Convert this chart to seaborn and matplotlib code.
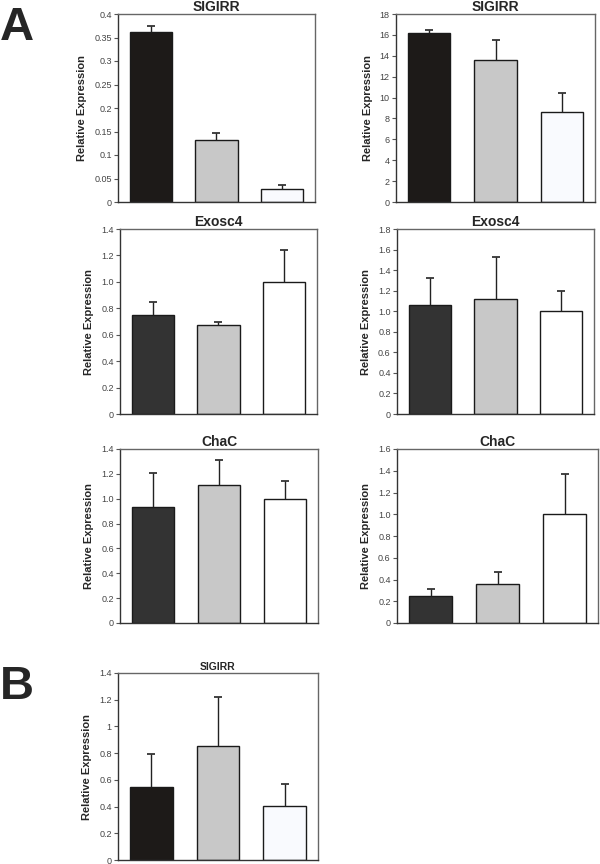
import numpy as np
import pandas as pd
import matplotlib
matplotlib.use("Agg")
import matplotlib.pyplot as plt
import seaborn as sns
from matplotlib.ticker import FixedLocator, FixedFormatter

# Bar heights and (upper) error bars for each panel, groups in order
groups = ["g1", "g2", "g3"]

sigirr_a1 = [0.362, 0.132, 0.028]
sigirr_a1_err = [0.012, 0.015, 0.008]

sigirr_a2 = [16.2, 13.6, 8.6]
sigirr_a2_err = [0.3, 1.9, 1.8]

exosc4_a3 = [0.75, 0.67, 1.0]
exosc4_a3_err = [0.095, 0.03, 0.24]

exosc4_a4 = [1.06, 1.12, 1.0]
exosc4_a4_err = [0.26, 0.41, 0.20]

chac_a5 = [0.93, 1.11, 1.0]
chac_a5_err = [0.28, 0.20, 0.14]

chac_a6 = [0.25, 0.355, 1.0]
chac_a6_err = [0.06, 0.115, 0.37]

sigirr_b = [0.545, 0.855, 0.405]
sigirr_b_err = [0.245, 0.365, 0.165]

ticks_a1 = ["0", "0.05", "0.1", "0.15", "0.2", "0.25", "0.3", "0.35", "0.4"]
ticks_a2 = ["0", "2", "4", "6", "8", "10", "12", "14", "16", "18"]
ticks_a3 = ["0", "0.2", "0.4", "0.6", "0.8", "1.0", "1.2", "1.4"]
ticks_a4 = ["0", "0.2", "0.4", "0.6", "0.8", "1.0", "1.2", "1.4", "1.6", "1.8"]
ticks_a6 = ["0", "0.2", "0.4", "0.6", "0.8", "1.0", "1.2", "1.4", "1.6"]
ticks_b = ["0", "0.2", "0.4", "0.6", "0.8", "1", "1.2", "1.4"]

sns.set_theme(style="white")
plt.rcParams['font.family'] = ['Liberation Sans', 'DejaVu Sans']

W, H = 600, 864
fig = plt.figure(figsize=(6, 8.64), dpi=100)


def make_ax(x0, y0, x1, y1):
    return fig.add_axes([x0 / W, 1 - y1 / H, (x1 - x0) / W, (y1 - y0) / H])


def panel(ax, title, vals, errs, ticks, colors, title_size=10, ysize=8):
    df = pd.DataFrame({"group": groups, "value": vals})
    sns.barplot(data=df, x="group", y="value", hue="group", palette=colors,
                width=0.64, edgecolor="#1a1a1a", linewidth=1.0,
                legend=False, ax=ax, errorbar=None)
    # one-sided error bars on top of the bars
    xs = [p.get_x() + p.get_width() / 2 for p in ax.patches]
    eb = ax.errorbar(xs, vals, yerr=[np.zeros(len(vals)), errs], fmt="none",
                     ecolor="#222222", elinewidth=1.0, capsize=3, capthick=1.2, zorder=1)
    # hide the cap at the bar top (lower end)
    eb.lines[1][0].set_visible(False)
    tv = [float(t) for t in ticks]
    ax.set_ylim(0, tv[-1])
    ax.set_xlim(-0.5, 2.5)
    ax.yaxis.set_major_locator(FixedLocator(tv))
    ax.yaxis.set_major_formatter(FixedFormatter(ticks))
    ax.tick_params(axis="y", left=True, length=3, width=0.8, color="#555555",
                   labelsize=6.5, labelcolor="#444444", pad=1.5)
    ax.set_xticks([])
    ax.set_xlabel("")
    ax.set_ylabel("Relative Expression", fontsize=ysize, fontweight="bold", labelpad=5)
    ax.set_title(title, fontsize=title_size, fontweight="bold", pad=2)
    for s in ax.spines.values():
        s.set_visible(True)
        s.set_color("#666666")
        s.set_linewidth(1.0)
    ax.spines["left"].set_color("#333333")
    ax.spines["bottom"].set_color("#333333")


col_a = ["#1e1a17", "#c8c8c8", "#f8faff"]
col_b = ["#333333", "#c8c8c8", "#ffffff"]

ax1 = make_ax(118, 14, 315, 202)
panel(ax1, "SIGIRR", sigirr_a1, sigirr_a1_err, ticks_a1, col_a)
ax2 = make_ax(396, 14, 595, 202)
panel(ax2, "SIGIRR", sigirr_a2, sigirr_a2_err, ticks_a2, col_a)
ax3 = make_ax(120, 229, 317, 414)
panel(ax3, "Exosc4", exosc4_a3, exosc4_a3_err, ticks_a3, col_b)
ax4 = make_ax(397, 229, 594, 414)
panel(ax4, "Exosc4", exosc4_a4, exosc4_a4_err, ticks_a4, col_b)
ax5 = make_ax(120, 449, 318, 623)
panel(ax5, "ChaC", chac_a5, chac_a5_err, ticks_a3, col_b)
ax6 = make_ax(397, 449, 598, 623)
panel(ax6, "ChaC", chac_a6, chac_a6_err, ticks_a6, col_b)
ax7 = make_ax(118, 673, 318, 860)
panel(ax7, "SIGIRR", sigirr_b, sigirr_b_err, ticks_b, col_a, title_size=7.5)

fig.text(0 / W, 1 - 6 / H, "A", fontsize=34, fontweight="bold", va="top", ha="left")
fig.text(0 / W, 1 - 665 / H, "B", fontsize=34, fontweight="bold", va="top", ha="left")

fig.savefig("out.png", dpi=100)
